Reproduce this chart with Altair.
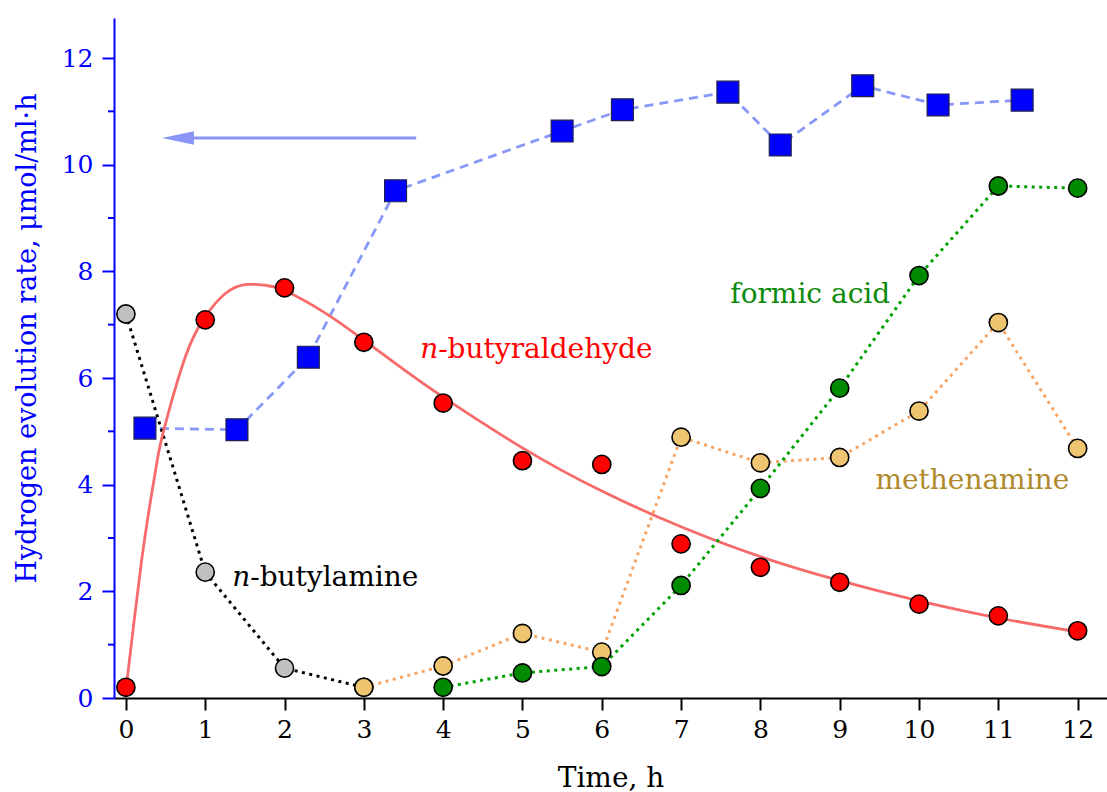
import altair as alt
import pandas as pd

# ---- data ----
hours = list(range(13))
butyraldehyde = [0.20, 7.09, 7.69, 6.67, 5.53, 4.45, 4.38, 2.89, 2.45, 2.17, 1.76, 1.54, 1.26]

fit_t = [0, 0.1, 0.2, 0.3, 0.4, 0.5, 0.75, 1.0, 1.25, 1.5, 1.75, 2.0, 2.5, 3, 3.5, 4, 5, 6, 7, 8, 9, 10, 11, 12]
fit_v = [0.15, 1.4, 2.6, 3.6, 4.5, 5.15, 6.4, 7.15, 7.58, 7.75, 7.74, 7.64, 7.23, 6.71, 6.16, 5.64, 4.69, 3.88, 3.21, 2.65, 2.20, 1.82, 1.50, 1.24]

butylamine_t = [0, 1, 2, 3]
butylamine = [7.20, 2.36, 0.56, 0.20]

methenamine_t = [3, 4, 5, 6, 7, 8, 9, 10, 11, 12]
methenamine = [0.20, 0.60, 1.21, 0.86, 4.89, 4.41, 4.51, 5.38, 7.04, 4.68]

formic_t = [4, 5, 6, 7, 8, 9, 10, 11, 12]
formic = [0.20, 0.47, 0.59, 2.11, 3.93, 5.81, 7.92, 9.60, 9.56]

h2_t = [0.24, 1.40, 2.30, 3.40, 5.50, 6.26, 7.59, 8.25, 9.29, 10.24, 11.30]
h2 = [5.06, 5.03, 6.39, 9.51, 10.63, 11.03, 11.36, 10.37, 11.48, 11.12, 11.21]

y_major = [0, 2, 4, 6, 8, 10, 12]
y_minor = [1, 3, 5, 7, 9, 11]
x_ticks = list(range(13))

labels = [
    {"t": 1.34, "v": 2.10, "text": "-butylamine", "italic": "n", "color": "#000000"},
    {"t": 3.71, "v": 6.37, "text": "-butyraldehyde", "italic": "n", "color": "#ff0000"},
    {"t": 7.62, "v": 7.41, "text": "formic acid", "italic": "", "color": "#0a8a0a"},
    {"t": 9.45, "v": 3.92, "text": "methenamine", "italic": "", "color": "#b08a2c"},
]
arrow = {"t_tip": 0.656, "t_base": 0.82, "t_tail": 3.66, "v": 10.5}

FONT = "DejaVu Serif"
BLUE = "#0000ff"

df_but = pd.DataFrame({"t": hours, "v": butyraldehyde})
df_fit = pd.DataFrame({"t": fit_t, "v": fit_v})
df_bam = pd.DataFrame({"t": butylamine_t, "v": butylamine})
df_met = pd.DataFrame({"t": methenamine_t, "v": methenamine})
df_for = pd.DataFrame({"t": formic_t, "v": formic})
df_h2 = pd.DataFrame({"t": h2_t, "v": h2})
df_minor = pd.DataFrame({"v": y_minor})
df_lab = pd.DataFrame(labels)
df_arrow = pd.DataFrame([arrow])

xscale = alt.Scale(domain=[-0.15, 12.37], nice=False, zero=False)
yscale = alt.Scale(domain=[0, 12.75], nice=False, zero=False)

xaxis = alt.Axis(values=x_ticks, grid=False, domainColor="black", domainWidth=2,
                 tickColor="black", tickWidth=2, tickSize=12,
                 labelColor="black", labelFont=FONT, labelFontSize=25, labelPadding=7,
                 labelFlush=False, title="Time, h", titleFont=FONT, titleFontSize=28,
                 titleFontWeight="normal", titleColor="black", titleBaseline="alphabetic",
                 titleY=88)
yaxis = alt.Axis(values=y_major, grid=False, domainColor=BLUE, domainWidth=2,
                 tickColor=BLUE, tickWidth=2, tickSize=12, format="d",
                 labelColor=BLUE, labelFont=FONT, labelFontSize=25, labelPadding=9,
                 labelFlush=False,
                 title="Hydrogen evolution rate, μmol/ml·h", titleFont=FONT,
                 titleFontSize=27, titleFontWeight="normal", titleColor=BLUE,
                 titleAngle=-90, titleAlign="center", titleBaseline="alphabetic",
                 titleX=-79, titleY=320)

X = alt.X("t:Q", scale=xscale, axis=xaxis)
Y = alt.Y("v:Q", scale=yscale, axis=yaxis)

dot = [3, 4.5]

h2_line = alt.Chart(df_h2).mark_line(color="#8898f8", strokeWidth=2.8, strokeDash=[9, 6]).encode(x=X, y=Y)
h2_pts = alt.Chart(df_h2).mark_point(shape="square", filled=True, size=480, fill=BLUE,
                                      stroke="#202050", strokeWidth=1.2, opacity=1).encode(x=X, y=Y)

bam_line = alt.Chart(df_bam).mark_line(color="black", strokeWidth=3, strokeDash=dot).encode(x=X, y=Y)
fit_line = alt.Chart(df_fit).mark_line(color="#f76b6b", strokeWidth=2.8, interpolate="natural").encode(x=X, y=Y)
met_line = alt.Chart(df_met).mark_line(color="#f7a565", strokeWidth=3, strokeDash=dot).encode(x=X, y=Y)
for_line = alt.Chart(df_for).mark_line(color="#00a000", strokeWidth=3, strokeDash=dot).encode(x=X, y=Y)


def circles(df, fill):
    return alt.Chart(df).mark_point(shape="circle", filled=True, size=330, fill=fill,
                                    stroke="black", strokeWidth=1.6, opacity=1).encode(x=X, y=Y)


bam_pts = circles(df_bam, "#c0c0c0")
met_pts = circles(df_met, "#efc571")
for_pts = circles(df_for, "#008a00")
but_pts = circles(df_but, "#ff0000")

minor_ticks = alt.Chart(df_minor).mark_rule(color=BLUE, strokeWidth=2).encode(
    y=alt.Y("v:Q", scale=yscale, axis=yaxis), x=alt.value(-6), x2=alt.value(0))

arrow_line = alt.Chart(df_arrow).mark_rule(color="#8a96f7", strokeWidth=3.2).encode(
    x=alt.X("t_base:Q", scale=xscale, axis=xaxis), x2="t_tail:Q",
    y=alt.Y("v:Q", scale=yscale, axis=yaxis))
arrow_head = alt.Chart(df_arrow).mark_point(shape="M -1 0 L 1 -0.42 L 1 0.42 Z", filled=True,
                                             size=1024, fill="#8a96f7", opacity=1, strokeWidth=0).encode(
    x=alt.X("t_tip:Q", scale=xscale, axis=xaxis), y=alt.Y("v:Q", scale=yscale, axis=yaxis))

lab_plain = alt.Chart(df_lab[df_lab["italic"] == ""]).mark_text(
    font=FONT, fontSize=28, align="left", baseline="alphabetic").encode(
    x=X, y=Y, text="text:N", color=alt.Color("color:N", scale=None))
lab_suffix = alt.Chart(df_lab[df_lab["italic"] != ""]).mark_text(
    font=FONT, fontSize=28, align="left", baseline="alphabetic", dx=18).encode(
    x=X, y=Y, text="text:N", color=alt.Color("color:N", scale=None))
lab_prefix = alt.Chart(df_lab[df_lab["italic"] != ""]).mark_text(
    font=FONT, fontSize=28, fontStyle="italic", align="left", baseline="alphabetic").encode(
    x=X, y=Y, text="italic:N", color=alt.Color("color:N", scale=None))

chart = alt.layer(
    minor_ticks, h2_line, h2_pts, arrow_line, arrow_head,
    bam_line, met_line, fit_line, for_line,
    bam_pts, met_pts, for_pts, but_pts,
    lab_prefix, lab_suffix, lab_plain,
).properties(
    width=993, height=680,
    autosize=alt.AutoSizeParams(type="none"),
    padding={"left": 114, "top": 18, "right": 0, "bottom": 94},
    background="white",
).configure_view(stroke=None)

chart.save("out.html", embed_options={"renderer": "svg", "actions": False})
